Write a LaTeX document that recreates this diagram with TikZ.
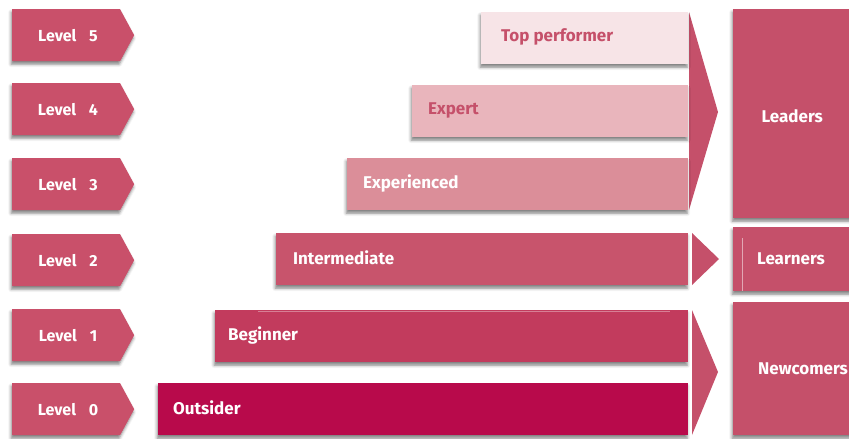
\documentclass[tikz,border=0pt]{standalone}
\usepackage{fontspec}
\setmainfont{Fira Sans}
\usetikzlibrary{shapes.symbols,shadows.blur,calc}
\definecolor{tagred}{HTML}{C9506A}
\definecolor{groupred}{HTML}{C5506A}
\definecolor{lvfive}{HTML}{F7E4E7}
\definecolor{lvfour}{HTML}{E9B5BC}
\definecolor{lvthree}{HTML}{DB8E99}
\definecolor{lvtwo}{HTML}{C8546C}
\definecolor{lvone}{HTML}{C23B5D}
\definecolor{lvzero}{HTML}{B80A4B}
\begin{document}
\begin{tikzpicture}[x=1pt,y=-1pt,
  softshadow/.style={blur shadow={shadow xshift=-1pt,shadow yshift=-3pt,shadow blur radius=3pt,shadow opacity=50}},
  tag/.style={signal,signal to=east,signal pointer angle=123,fill=tagred,draw=none,
    minimum width=122pt,minimum height=52pt,inner sep=0pt,anchor=north west,softshadow},
  taglabel/.style={text=white,inner sep=0pt,font=\bfseries\fontsize{16}{18}\selectfont},
  bar/.style={fill=#1,draw=none,minimum height=52pt,inner sep=0pt,anchor=north west,softshadow},
  barlabel/.style={anchor=west,inner sep=0pt,font=\bfseries\fontsize{17}{19}\selectfont},
  group/.style={fill=groupred,draw=none,inner sep=0pt,anchor=north west,softshadow},
  grouplabel/.style={text=white,inner sep=0pt,font=\bfseries\fontsize{17}{19}\selectfont},
  pointer/.style={fill=groupred,draw=none},
  sheen/.style={white,opacity=0.5,line width=0.6pt}
]
\useasboundingbox (0,0) rectangle (849,439);

% level tags
\foreach \n/\y in {5/9,4/83,3/158,2/234,1/309,0/383}{
  \node[tag] (tag\n) at (12,\y) {};
  \node[taglabel] at ($(tag\n.west)+(56,0)$) {Level\hspace{0.8em}\n};
}

% pointers into the groups (drawn first, behind the bars)
\coordinate (ltop) at (689,12);
\coordinate (lbot) at (689,210);
\coordinate (ltip) at (718,112);
\fill[pointer] (ltop) -- (ltip) -- (lbot) -- cycle;
\coordinate (mtop) at (692,233);
\coordinate (mbot) at (692,285);
\coordinate (mtip) at (719,259);
\fill[pointer] (mtop) -- (mtip) -- (mbot) -- cycle;
\coordinate (ntop) at (692,310);
\coordinate (nbot) at (692,435);
\coordinate (ntip) at (718,372);
\fill[pointer] (ntop) -- (ntip) -- (nbot) -- cycle;

% skill bars
\node[bar=lvfive,minimum width=207pt] (top) at (481,12) {};
\node[barlabel,text=groupred] at ($(top.west)+(20,-1)$) {Top performer};
\node[bar=lvfour,minimum width=276pt] (exp) at (412,85) {};
\node[barlabel,text=groupred] at ($(exp.west)+(16,-1)$) {Expert};
\node[bar=lvthree,minimum width=341pt] (expd) at (347,158) {};
\node[barlabel,text=white] at ($(expd.west)+(16,-1)$) {Experienced};
\node[bar=lvtwo,minimum width=412pt] (inter) at (276,233) {};
\node[barlabel,text=white] at ($(inter.west)+(17,-1)$) {Intermediate};
\node[bar=lvone,minimum width=473pt] (beg) at (215,310) {};
\node[barlabel,text=white] at ($(beg.west)+(13,-1)$) {Beginner};
\draw[sheen,opacity=0.35] ($(beg.north west)+(43,1)$) -- ($(beg.north east)+(-18,1)$);
\node[bar=lvzero,minimum width=530pt] (out) at (158,383) {};
\node[barlabel,text=white] at ($(out.west)+(15,-1)$) {Outsider};

% groups
\node[group,minimum width=120pt,minimum height=209pt] (leaders) at (733,9) {};
\node[grouplabel] at ($(leaders.center)+(-1,2)$) {Leaders};
\node[group,minimum width=120pt,minimum height=64pt] (learners) at (733,227) {};
\node[grouplabel,anchor=west] at ($(learners.west)+(24,0)$) {Learners};
\draw[sheen] ($(learners.north west)+(9,11)$) -- ($(learners.south west)+(9,0)$);
\node[group,minimum width=120pt,minimum height=133pt] (newc) at (733,302) {};
\node[grouplabel,anchor=west] at ($(newc.west)+(25,0)$) {Newcomers};
\end{tikzpicture}
\end{document}
